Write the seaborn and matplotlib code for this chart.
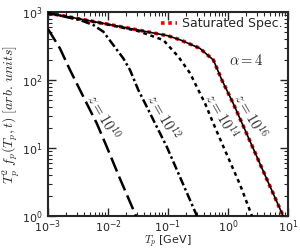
import numpy as np
import pandas as pd
import matplotlib
matplotlib.use("Agg")
import matplotlib.pyplot as plt
import seaborn as sns

# ---- data ----
z10_T = [0.001, 0.00158, 0.00233, 0.00341, 0.0047, 0.00649, 0.0095, 0.0158, 0.0293]
z10_V = [562, 292, 140, 71.3, 40.5, 23.1, 10.5, 3.55, 1.0]

z12_T = [0.001, 0.00341, 0.00569, 0.00836, 0.01225, 0.018, 0.0233, 0.032, 0.0442, 0.0607, 0.0951, 0.304]
z12_V = [966, 762, 644, 513, 327, 208, 140, 71.3, 40.5, 23.1, 10.5, 1.0]

z14_T = [0.001, 0.01, 0.0316, 0.0836, 0.149, 0.233, 0.32, 0.414, 0.569, 0.836, 1.585, 2.51]
z14_V = [966, 653, 525, 387, 220, 126, 71.3, 45.4, 23.1, 10.5, 2.9, 1.0]

z16_T = [0.001, 0.01, 0.1, 0.16, 0.34, 0.57, 0.79, 1.22, 2.05, 3.4, 8.3]
z16_V = [966, 661, 447, 389, 292, 197, 100, 45.4, 16.2, 5.9, 1.0]

sat_T = [0.001, 0.01, 0.1, 0.16, 0.34, 0.57, 0.79, 1.22, 2.05, 3.4, 8.3]
sat_V = [966, 661, 447, 389, 292, 197, 100, 45.4, 16.2, 5.9, 1.0]

z_labels = [r"$z=10^{10}$", r"$z=10^{12}$", r"$z=10^{14}$", r"$z=10^{16}$"]
legend_label = "Saturated Spec."
alpha_label = r"$\alpha=4$"

sns.set_style("ticks")
plt.rcParams["font.family"] = ["DejaVu Sans"]
plt.rcParams["mathtext.fontset"] = "cm"

fig = plt.figure(figsize=(3.0, 2.5), dpi=100)
ax = fig.add_axes([0.16, 0.136, 0.80, 0.816])
ax.set_xscale("log")
ax.set_yscale("log")

sns.lineplot(x=sat_T, y=sat_V, ax=ax, color="#ff0000", lw=2.6,
             linestyle=(0, (1.0, 1.0)), sort=False, label=legend_label, zorder=2)
sns.lineplot(x=z16_T, y=z16_V, ax=ax, color="k", lw=1.2, sort=False, zorder=3)
sns.lineplot(x=z14_T, y=z14_V, ax=ax, color="k", lw=1.8,
             linestyle=(0, (1.5, 1.5)), sort=False, zorder=3)
sns.lineplot(x=z12_T, y=z12_V, ax=ax, color="k", lw=1.8,
             linestyle=(0, (3.5, 1.2, 1.0, 1.2)), sort=False, zorder=3)
sns.lineplot(x=z10_T, y=z10_V, ax=ax, color="k", lw=1.8,
             linestyle=(0, (6, 2.2)), sort=False, zorder=3)

ax.set_xlim(1e-3, 10)
ax.set_ylim(1, 1000)

# curve labels (axes-fraction positions)
label_pos = [(0.232, 0.485), (0.483, 0.485), (0.722, 0.49), (0.845, 0.49)]
for txt, (px, py) in zip(z_labels, label_pos):
    ax.text(px, py, txt, transform=ax.transAxes, rotation=-60,
            ha="center", va="center", rotation_mode="anchor", fontsize=10.5)
ax.text(0.827, 0.762, alpha_label, transform=ax.transAxes,
        ha="center", va="center", fontsize=10.5)

leg = ax.legend(loc="upper right", frameon=False, fontsize=9,
                handlelength=1.3, handletextpad=0.4,
                borderaxespad=0.2, borderpad=0.2)

ax.set_xlabel(r"$T_p$ [GeV]", fontsize=8, labelpad=-1)
ax.set_ylabel(r"$T_p^2\; f_p(T_p,t)\;[arb.\,units]$", fontsize=10, labelpad=0)

for s in ax.spines.values():
    s.set_linewidth(1.5)
    s.set_visible(True)
ax.tick_params(which="both", direction="in", top=True, right=True, labelsize=8)
ax.tick_params(which="major", length=6, width=1.0, pad=1.5)
ax.tick_params(which="minor", length=3, width=0.8)
ax.tick_params(axis="y", which="major", pad=4)

fig.savefig("out.png", dpi=100)
